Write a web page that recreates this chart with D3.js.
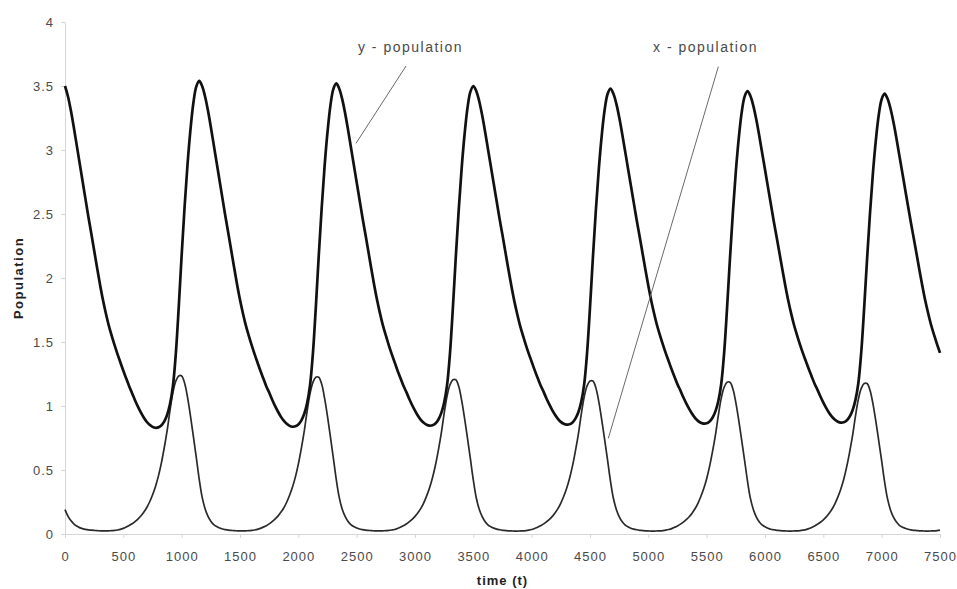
<!DOCTYPE html>
<html>
<head>
<meta charset="utf-8">
<script src="https://cdn.jsdelivr.net/npm/d3@7"></script>
<style>
  body { margin: 0; background: #fff; }
  svg { display: block; }
</style>
</head>
<body>
<svg width="957" height="589"></svg>
<script>
// sampling grid of the series (every 25 time units)
times = d3.range(0, 7501, 25);

// predator (thick line), one row per cycle
yPopulation = [
  3.50, 3.42, 3.31, 3.18, 3.04, 2.90, 2.76, 2.62, 2.48, 2.35, 2.215, 2.08, 1.95, 1.83, 1.725, 1.63, 1.55, 1.475, 1.405, 1.34, 1.275, 1.215, 1.155,
  1.10, 1.045, 0.995, 0.95, 0.91, 0.877, 0.853, 0.837, 0.83, 0.833, 0.848, 0.878, 0.93, 1.015, 1.155, 1.41, 1.775, 2.18, 2.555, 2.885, 3.155, 3.365, 3.495,

  3.54, 3.50, 3.42, 3.31, 3.18, 3.04, 2.90, 2.76, 2.62, 2.48, 2.35, 2.215, 2.08, 1.95, 1.83, 1.725, 1.63, 1.55, 1.475, 1.405, 1.34, 1.275, 1.215, 1.155,
  1.105, 1.051, 1.001, 0.957, 0.917, 0.885, 0.861, 0.845, 0.838, 0.841, 0.856, 0.886, 0.937, 1.021, 1.160, 1.412, 1.773, 2.174, 2.545, 2.872, 3.139, 3.347, 3.476,

  3.520, 3.480, 3.401, 3.292, 3.164, 3.025, 2.887, 2.748, 2.610, 2.471, 2.342, 2.209, 2.075, 1.946, 1.828, 1.724, 1.630, 1.551, 1.476, 1.407, 1.343, 1.278, 1.219, 1.160,
  1.110, 1.057, 1.008, 0.964, 0.924, 0.892, 0.869, 0.853, 0.846, 0.849, 0.864, 0.893, 0.944, 1.027, 1.164, 1.414, 1.772, 2.168, 2.535, 2.859, 3.123, 3.329, 3.456,

  3.500, 3.461, 3.383, 3.275, 3.147, 3.010, 2.873, 2.736, 2.599, 2.462, 2.335, 2.202, 2.070, 1.943, 1.825, 1.723, 1.630, 1.551, 1.478, 1.409, 1.346, 1.282, 1.223, 1.164,
  1.116, 1.062, 1.014, 0.970, 0.932, 0.900, 0.876, 0.861, 0.854, 0.857, 0.871, 0.901, 0.951, 1.033, 1.169, 1.416, 1.770, 2.162, 2.526, 2.845, 3.107, 3.310, 3.436,

  3.480, 3.441, 3.364, 3.257, 3.131, 2.996, 2.860, 2.724, 2.589, 2.453, 2.327, 2.196, 2.065, 1.939, 1.823, 1.721, 1.629, 1.552, 1.479, 1.411, 1.348, 1.285, 1.227, 1.169,
  1.121, 1.068, 1.020, 0.977, 0.939, 0.907, 0.884, 0.869, 0.862, 0.865, 0.879, 0.908, 0.958, 1.039, 1.174, 1.418, 1.768, 2.156, 2.516, 2.832, 3.091, 3.292, 3.417,

  3.460, 3.422, 3.345, 3.240, 3.115, 2.981, 2.847, 2.712, 2.578, 2.444, 2.319, 2.190, 2.060, 1.936, 1.821, 1.720, 1.629, 1.552, 1.480, 1.413, 1.351, 1.289, 1.231, 1.174,
  1.126, 1.074, 1.027, 0.984, 0.946, 0.915, 0.892, 0.877, 0.870, 0.873, 0.887, 0.916, 0.965, 1.046, 1.178, 1.420, 1.766, 2.150, 2.506, 2.819, 3.075, 3.274, 3.397,

  3.440, 3.402, 3.326, 3.222, 3.099, 2.966, 2.833, 2.700, 2.567, 2.435, 2.311, 2.183, 2.055, 1.932, 1.818, 1.719, 1.629, 1.553, 1.482, 1.415
];

// prey (thin line)
xPopulation = [
  0.19, 0.14, 0.105, 0.08, 0.062, 0.05, 0.042, 0.036, 0.032, 0.030, 0.028, 0.026, 0.025, 0.024, 0.024, 0.025, 0.026, 0.028, 0.031, 0.036,
  0.044, 0.054, 0.066, 0.080, 0.097, 0.117, 0.141, 0.170, 0.205, 0.250, 0.305, 0.370, 0.450, 0.550, 0.670, 0.805, 0.965, 1.105, 1.195, 1.235,
  1.235, 1.18, 1.07, 0.925, 0.765, 0.60,

  0.43, 0.29, 0.20, 0.14, 0.10, 0.074, 0.058, 0.047, 0.039, 0.034, 0.030, 0.028, 0.026, 0.025, 0.024, 0.024, 0.025, 0.026, 0.028, 0.031,
  0.036, 0.044, 0.054, 0.065, 0.079, 0.096, 0.116, 0.140, 0.169, 0.203, 0.248, 0.303, 0.367, 0.446, 0.546, 0.665, 0.799, 0.957, 1.096, 1.185,
  1.225, 1.225, 1.171, 1.061, 0.918, 0.759, 0.595,

  0.427, 0.288, 0.198, 0.139, 0.099, 0.073, 0.058, 0.047, 0.039, 0.034, 0.030, 0.028, 0.026, 0.025, 0.024, 0.024, 0.025, 0.026, 0.028, 0.031,
  0.035, 0.043, 0.053, 0.064, 0.078, 0.095, 0.114, 0.138, 0.166, 0.200, 0.244, 0.298, 0.361, 0.439, 0.537, 0.654, 0.786, 0.942, 1.078, 1.166,
  1.205, 1.205, 1.152, 1.044, 0.903, 0.747, 0.586,

  0.420, 0.283, 0.195, 0.137, 0.098, 0.072, 0.057, 0.046, 0.038, 0.033, 0.029, 0.027, 0.025, 0.024, 0.023, 0.023, 0.024, 0.025, 0.027, 0.030,
  0.035, 0.043, 0.052, 0.064, 0.077, 0.094, 0.113, 0.136, 0.165, 0.198, 0.242, 0.295, 0.358, 0.436, 0.532, 0.649, 0.779, 0.934, 1.070, 1.157,
  1.195, 1.195, 1.142, 1.036, 0.895, 0.741, 0.581,

  0.416, 0.281, 0.194, 0.136, 0.097, 0.072, 0.056, 0.045, 0.038, 0.033, 0.029, 0.027, 0.025, 0.024, 0.023, 0.023, 0.024, 0.025, 0.027, 0.030,
  0.035, 0.042, 0.052, 0.063, 0.077, 0.093, 0.112, 0.135, 0.163, 0.197, 0.240, 0.293, 0.355, 0.432, 0.528, 0.643, 0.773, 0.926, 1.061, 1.147,
  1.186, 1.186, 1.133, 1.027, 0.888, 0.734, 0.576,

  0.413, 0.278, 0.192, 0.134, 0.096, 0.071, 0.056, 0.045, 0.037, 0.033, 0.029, 0.027, 0.025, 0.024, 0.023, 0.023, 0.024, 0.025, 0.027, 0.030,
  0.034, 0.042, 0.051, 0.063, 0.076, 0.092, 0.111, 0.134, 0.162, 0.195, 0.238, 0.290, 0.352, 0.428, 0.524, 0.638, 0.766, 0.919, 1.052, 1.138,
  1.176, 1.176, 1.123, 1.019, 0.881, 0.728, 0.571,

  0.409, 0.276, 0.190, 0.133, 0.095, 0.070, 0.055, 0.045, 0.037, 0.032, 0.029, 0.027, 0.025, 0.024, 0.023, 0.023, 0.024, 0.025, 0.027, 0.030
];

xTicks = [0, 500, 1000, 1500, 2000, 2500, 3000, 3500, 4000, 4500, 5000, 5500, 6000, 6500, 7000, 7500];
yTicks = [0, 0.5, 1, 1.5, 2, 2.5, 3, 3.5, 4];

// labels with their leader lines, in data units
notes = [
  {text: "y - population", t: 2511, v: 3.766, from: [2923, 3.656], to: [2494, 3.052]},
  {text: "x - population", t: 5040, v: 3.766, from: [5600, 3.651], to: [4657, 0.748]}
];

width = 957;
height = 589;
margin = {top: 22, right: 17, bottom: 55, left: 65};
font = "'Liberation Sans', Arial, sans-serif";

function draw() {
  const svg = d3.select("svg");

  const x = d3.scaleLinear()
      .domain([0, 7500])
      .range([margin.left, width - margin.right]);
  const y = d3.scaleLinear()
      .domain([0, 4])
      .range([height - margin.bottom, margin.top]);

  const xAxis = svg.append("g")
      .attr("transform", `translate(0,${height - margin.bottom})`)
      .call(d3.axisBottom(x).tickValues(xTicks).tickFormat(d3.format("d"))
        .tickSize(4).tickSizeOuter(0).tickPadding(14));
  const yAxis = svg.append("g")
      .attr("transform", `translate(${margin.left},0)`)
      .call(d3.axisLeft(y).tickValues(yTicks).tickFormat(d3.format("~g"))
        .tickSize(4).tickSizeOuter(0).tickPadding(7));

  [xAxis, yAxis].forEach(function(g){
    g.select(".domain").attr("stroke", "#d6d6d6");
    g.selectAll(".tick line").attr("stroke", "#d6d6d6");
    g.selectAll(".tick text")
      .attr("fill", "#4a4a4a")
      .style("font", `13px ${font}`)
      .style("letter-spacing", "1px");
  });

  const line = series => d3.line()
      .x((d, i) => x(times[i]))
      .y(d => y(d))
      .curve(d3.curveCatmullRom)(series);

  svg.append("path")
      .attr("d", line(xPopulation))
      .attr("fill", "none")
      .attr("stroke", "#2a2a2a")
      .attr("stroke-width", 1.7);

  svg.append("path")
      .attr("d", line(yPopulation))
      .attr("fill", "none")
      .attr("stroke", "#111")
      .attr("stroke-width", 2.7);

  const note = svg.append("g")
    .selectAll("g")
    .data(notes)
    .join("g");
  note.append("line")
      .attr("x1", d => x(d.from[0]))
      .attr("y1", d => y(d.from[1]))
      .attr("x2", d => x(d.to[0]))
      .attr("y2", d => y(d.to[1]))
      .attr("stroke", "#6a6a6a")
      .attr("stroke-width", 1);
  note.append("text")
      .attr("x", d => x(d.t))
      .attr("y", d => y(d.v))
      .attr("fill", "#4a4a4a")
      .style("font", `14px ${font}`)
      .style("letter-spacing", "1.5px")
      .text(d => d.text);

  svg.append("text")
      .attr("x", (margin.left + width - margin.right) / 2)
      .attr("y", 585)
      .attr("text-anchor", "middle")
      .attr("fill", "#222")
      .style("font", `bold 13px ${font}`)
      .style("letter-spacing", "1px")
      .text("time (t)");

  svg.append("text")
      .attr("transform", `translate(23,${(margin.top + height - margin.bottom) / 2}) rotate(-90)`)
      .attr("text-anchor", "middle")
      .attr("fill", "#222")
      .style("font", `bold 13px ${font}`)
      .style("letter-spacing", "1.5px")
      .text("Population");
}
draw();
</script>
</body>
</html>
